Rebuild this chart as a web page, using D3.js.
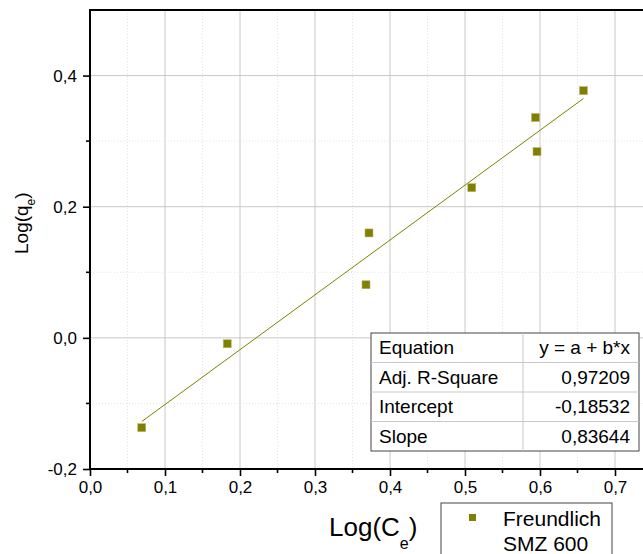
<!DOCTYPE html>
<html lang="en"><head>
<meta charset="utf-8">
<title>freundlich</title>
<script src="https://cdn.jsdelivr.net/npm/d3@7"></script>
<style>
  body { margin: 0; background: #fff; }
  text { font-family: "Liberation Sans", Arial, sans-serif; fill: #000; }
</style>
</head>
<body>
<svg width="643" height="554"></svg>
<script>
// data
var logCe = [0.069, 0.183, 0.368, 0.372, 0.509, 0.594, 0.596, 0.658];
var logQe = [-0.137, -0.009, 0.081, 0.160, 0.229, 0.336, 0.284, 0.377];
var fitA = -0.18532, fitB = 0.83644;
var tableRows = [["Equation", "y = a + b*x"], ["Adj. R-Square", "0,97209"],
                 ["Intercept", "-0,18532"], ["Slope", "0,83644"]];
var xTicks = [0, 0.1, 0.2, 0.3, 0.4, 0.5, 0.6, 0.7];
var yTicks = [-0.2, 0, 0.2, 0.4];
var legendLines = ["Freundlich", "SMZ 600"];

var svg = d3.select("svg");
var olive = "#808000";
var fmt = function(d) { return d3.format(".1f")(d).replace(".", ",").replace("\u2212", "-"); };

var x = d3.scaleLinear().domain([0, 0.1]).range([90, 165]);
var y = d3.scaleLinear().domain([-0.2, 0.5]).range([469, 10]);
var xMax = x.invert(660);

// grid
var g = svg.append("g");
d3.range(0.05, xMax, 0.1).forEach(function(v) {
  g.append("line").attr("x1", x(v)).attr("x2", x(v)).attr("y1", 10).attr("y2", 469)
    .attr("stroke", "#e4e4e4").attr("stroke-dasharray", "1,2");
});
d3.range(0.1, xMax, 0.1).forEach(function(v) {
  g.append("line").attr("x1", x(v)).attr("x2", x(v)).attr("y1", 10).attr("y2", 469)
    .attr("stroke", "#c8c8c8");
});
[-0.1, 0.1, 0.3].forEach(function(v) {
  g.append("line").attr("x1", 90).attr("x2", 643).attr("y1", y(v)).attr("y2", y(v))
    .attr("stroke", "#e4e4e4").attr("stroke-dasharray", "1,2");
});
[0, 0.2, 0.4].forEach(function(v) {
  g.append("line").attr("x1", 90).attr("x2", 643).attr("y1", y(v)).attr("y2", y(v))
    .attr("stroke", "#c8c8c8");
});

// fit line
var x0 = d3.min(logCe), x1 = d3.max(logCe);
svg.append("line")
  .attr("x1", x(x0)).attr("y1", y(fitA + fitB * x0))
  .attr("x2", x(x1)).attr("y2", y(fitA + fitB * x1))
  .attr("stroke", olive).attr("stroke-width", 1);

// points
svg.selectAll("rect.pt").data(logCe).enter().append("rect")
  .attr("class", "pt")
  .attr("x", function(d) { return x(d) - 4; })
  .attr("y", function(d, i) { return y(logQe[i]) - 4; })
  .attr("width", 8).attr("height", 8)
  .attr("fill", olive).attr("stroke", "#b8b870").attr("stroke-width", 0.6);

// axes
var xAxis = d3.axisBottom(x).tickValues(xTicks).tickFormat(fmt).tickSize(7).tickPadding(5);
var gx = svg.append("g").attr("transform", "translate(0,469)").call(xAxis);
gx.select(".domain").attr("d", "M89,0H643").attr("stroke-width", 2);
gx.selectAll(".tick line").attr("stroke-width", 1.6);
gx.selectAll(".tick text").style("font-size", "17px");
gx.selectAll("line.minor").data(d3.range(0.05, xMax, 0.1)).enter().append("line")
  .attr("class", "minor").attr("x1", function(d) { return x(d); }).attr("x2", function(d) { return x(d); })
  .attr("y1", 0).attr("y2", 4).attr("stroke", "#000").attr("stroke-width", 1.6);

var yAxis = d3.axisLeft(y).tickValues(yTicks).tickFormat(fmt).tickSize(7).tickPadding(6);
var gy = svg.append("g").attr("transform", "translate(90,0)").call(yAxis);
gy.select(".domain").attr("d", "M0,10V470").attr("stroke-width", 2);
gy.selectAll(".tick line").attr("stroke-width", 1.6);
gy.selectAll(".tick text").style("font-size", "17px");
gy.selectAll("line.minor").data([-0.1, 0.1, 0.3]).enter().append("line")
  .attr("class", "minor").attr("y1", function(d) { return y(d); }).attr("y2", function(d) { return y(d); })
  .attr("x1", 0).attr("x2", -4).attr("stroke", "#000").attr("stroke-width", 1.6);

// top border
svg.append("line").attr("x1", 89).attr("x2", 643).attr("y1", 10).attr("y2", 10)
  .attr("stroke", "#000").attr("stroke-width", 2);

// axis titles
var xt = svg.append("text").attr("x", 329).attr("y", 536).style("font-size", "26px");
xt.append("tspan").text("Log(C");
xt.append("tspan").attr("dy", 13).style("font-size", "16px").text("e");
xt.append("tspan").attr("dy", -13).text(")");

var yt = svg.append("text").attr("transform", "translate(28,254) rotate(-90)").style("font-size", "19px");
yt.append("tspan").text("Log(q");
yt.append("tspan").attr("dy", 7).style("font-size", "12px").text("e");
yt.append("tspan").attr("dy", -7).text(")");

// fit table
var tx = 371, ty = 333, rowH = 29.5, colX = 523, tw = 268;
var tbl = svg.append("g");
tbl.append("rect").attr("x", tx).attr("y", ty).attr("width", tw).attr("height", rowH * 4)
  .attr("fill", "#fff").attr("stroke", "#444").attr("stroke-width", 1);
tableRows.forEach(function(r, i) {
  if (i > 0) tbl.append("line").attr("x1", tx).attr("x2", tx + tw)
    .attr("y1", ty + i * rowH).attr("y2", ty + i * rowH).attr("stroke", "#c8c8c8");
  tbl.append("text").attr("x", tx + 8).attr("y", ty + i * rowH + 21)
    .style("font-size", "19px").text(r[0]);
  tbl.append("text").attr("x", tx + tw - 9).attr("y", ty + i * rowH + 21)
    .attr("text-anchor", "end").style("font-size", "19px").text(r[1]);
});
tbl.append("line").attr("x1", colX).attr("x2", colX).attr("y1", ty).attr("y2", ty + rowH * 4)
  .attr("stroke", "#c8c8c8");

// legend
var lg = svg.append("g");
lg.append("rect").attr("x", 441).attr("y", 503).attr("width", 171).attr("height", 70)
  .attr("fill", "#fff").attr("stroke", "#444").attr("stroke-width", 1);
lg.append("rect").attr("x", 469).attr("y", 514).attr("width", 7).attr("height", 7).attr("fill", olive);
legendLines.forEach(function(t, i) {
  lg.append("text").attr("x", 503).attr("y", 526 + i * 25).style("font-size", "21px").text(t);
});
</script>
</body>
</html>
